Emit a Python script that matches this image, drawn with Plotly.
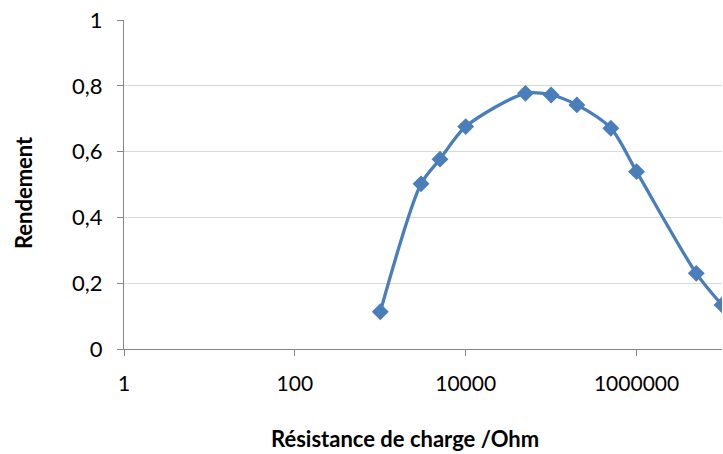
import plotly.graph_objects as go

# Load resistance (Ohm) and measured efficiency
resistance = [1000, 3000, 5000, 10000, 50000, 100000, 200000, 500000, 1000000, 5000000, 10000000]
rendement = [0.113, 0.502, 0.577, 0.676, 0.777, 0.772, 0.742, 0.671, 0.539, 0.230, 0.134]

x_ticks = [1, 100, 10000, 1000000]
x_tick_labels = ["1", "100", "10000", "1000000"]
y_ticks = [0, 0.2, 0.4, 0.6, 0.8, 1]

x_title = "Résistance de charge /Ohm"
y_title = "Rendement"

blue = "#4A7EBB"
axis_gray = "#868686"
grid_gray = "#D9D9D9"
font_family = "Lato, 'Open Sans', sans-serif"

fig = go.Figure()
fig.add_trace(go.Scatter(
    x=resistance,
    y=rendement,
    mode="lines+markers",
    line=dict(color=blue, width=3.3, shape="spline", smoothing=0.8),
    marker=dict(symbol="diamond", size=13, color=blue),
    showlegend=False,
))

fig.update_layout(
    width=723,
    height=454,
    margin=dict(l=124, r=1, t=20, b=105),
    paper_bgcolor="white",
    plot_bgcolor="white",
    separators=", ",
    font=dict(family=font_family, size=18, color="#000000"),
)

fig.update_xaxes(
    type="log",
    range=[0, 7],
    tickvals=x_ticks,
    ticktext=x_tick_labels,
    showgrid=False,
    showline=True,
    linecolor=axis_gray,
    linewidth=1,
    ticks="outside",
    ticklen=6,
    tickcolor=axis_gray,
    tickfont=dict(size=21),
    ticklabelstandoff=10,
    zeroline=False,
)

fig.update_yaxes(
    range=[0, 1],
    tickvals=y_ticks,
    tickformat=".1~f",
    showgrid=True,
    gridcolor=grid_gray,
    gridwidth=1,
    showline=True,
    linecolor=axis_gray,
    linewidth=1,
    ticks="outside",
    ticklen=6,
    tickcolor=axis_gray,
    tickfont=dict(size=22),
    ticklabelstandoff=10,
    zeroline=False,
)

# Axis titles placed as annotations relative to the plot area
fig.add_annotation(
    text=f"<b>{x_title}</b>", xref="paper", yref="paper",
    x=0.4695, y=-0.316, xanchor="center", yanchor="bottom",
    showarrow=False, borderpad=0, font=dict(size=22),
)
fig.add_annotation(
    text=f"<b>{y_title}</b>", xref="paper", yref="paper",
    x=-0.1688, y=0.474, xanchor="center", yanchor="middle",
    textangle=-90, showarrow=False, borderpad=0, font=dict(size=22),
)

fig.write_html("out.html")
